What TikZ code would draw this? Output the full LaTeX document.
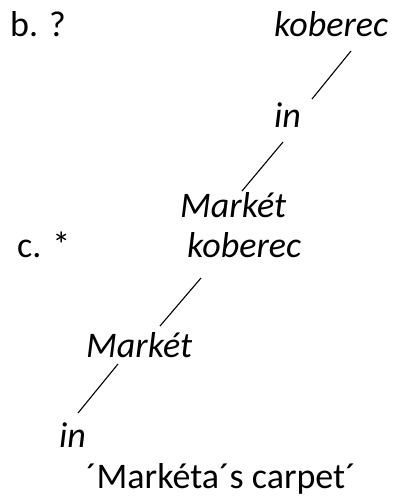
\documentclass[tikz,border=0pt]{standalone}
\usepackage{fontspec}
\setmainfont{Carlito}
\begin{document}
\begin{tikzpicture}[x=1pt,y=-1pt,
  word/.style={anchor=base west,inner sep=0pt,font=\fontsize{36}{42}\selectfont\itshape},
  label/.style={anchor=base west,inner sep=0pt,font=\fontsize{36}{42}\selectfont},
  branch/.style={line width=1.1pt}]
\useasboundingbox (0,0) rectangle (398,502);
% example b
\node[label] (bl) at (10,37) {b. ?};
\node[word] (bkob) at (274,37) {koberec};
\node[word] (bin) at (274,128) {in};
\node[word] (bmar) at (180,218) {Markét};
% example c
\node[label] (cl) at (17,257) {c. *};
\node[word] (ckob) at (187,257) {koberec};
\node[word] (cmar) at (86,357) {Markét};
\node[word] (cin) at (59,447) {in};
\node[label] (gloss) at (86,488) {´Markéta´s carpet´};
% branches
\draw[branch] ([shift={(77,14)}]bkob.base west) -- ([shift={(38,-29)}]bin.base west);
\draw[branch] ([shift={(9,14)}]bin.base west) -- ([shift={(62,-27)}]bmar.base west);
\draw[branch] ([shift={(14,21)}]ckob.base west) -- ([shift={(74,-31)}]cmar.base west);
\draw[branch] ([shift={(32,7)}]cmar.base west) -- ([shift={(19,-34)}]cin.base west);
\end{tikzpicture}
\end{document}
